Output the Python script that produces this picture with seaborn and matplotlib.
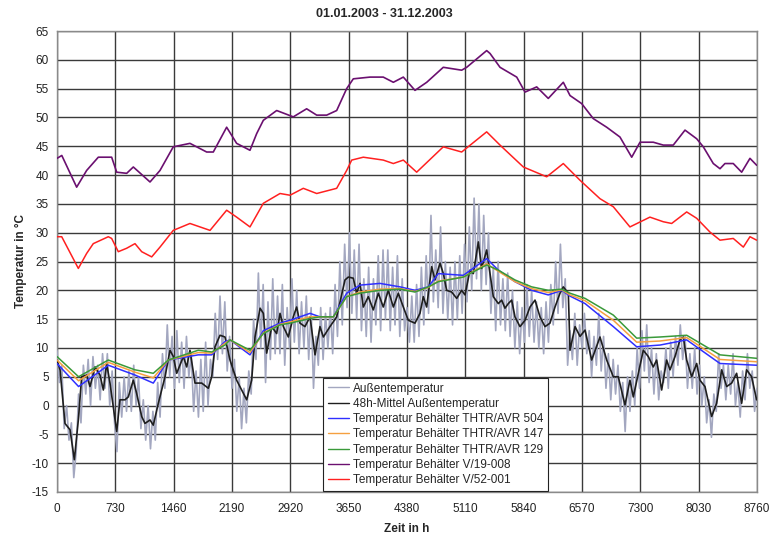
import numpy as np
import pandas as pd
import matplotlib
matplotlib.use("Agg")
import matplotlib.pyplot as plt
import seaborn as sns

# ---------------- data ----------------
title = "01.01.2003 - 31.12.2003"
x_ticks = [0, 730, 1460, 2190, 2920, 3650, 4380, 5110, 5840, 6570, 7300, 8030, 8760]
y_ticks = [-15, -10, -5, 0, 5, 10, 15, 20, 25, 30, 35, 40, 45, 50, 55, 60, 65]

labels = ["Außentemperatur", "48h-Mittel Außentemperatur",
          "Temperatur Behälter THTR/AVR 504", "Temperatur Behälter THTR/AVR 147",
          "Temperatur Behälter THTR/AVR 129", "Temperatur Behälter V/19-008",
          "Temperatur Behälter V/52-001"]

outdoor_step_h = 30
outdoor_t = [
    9.5, 4, 7, -4, 0, -6, -3, -12.5, -8, 2,
    -3, 7, 2, 8, 0, 8.5, 3, 7, 1, 9,
    3, 9, 0, 6, -3, -8, 4, -2, 5, -1,
    6, -1, 7, 0, 5, -4, 1, -6, 0, -7.5,
    -1, -6, 4, -2, 9, 3, 14, 5, 12, 3,
    13, 4, 11, 3, 12, 5, 9, -1, 6, -2,
    8, -1, 11, 0, 8, 5, 16, 8, 19, 9,
    18, 6, 12, 3, 8, -1, 5, -4, 3, -3,
    6, 2, 15, 8, 23, 10, 21, 4, 18, 8,
    22, 9, 19, 9, 21, 7, 17, 10, 22, 11,
    20, 9, 18, 10, 19, 8, 17, 3, 12, 7,
    17, 8, 16, 10, 17, 9, 21, 12, 25, 14,
    28, 17, 30, 16, 27, 15, 28, 13, 22, 12,
    24, 11, 22, 14, 26, 13, 27, 15, 27, 13,
    24, 14, 26, 12, 22, 13, 17, 11, 19, 11,
    21, 12, 24, 14, 26, 16, 33, 18, 27, 17,
    31, 16, 25, 15, 24, 14, 25, 15, 26, 16,
    28, 18, 31, 20, 36, 22, 35, 20, 33, 21,
    30, 16, 24, 13, 25, 14, 22, 13, 23, 12,
    20, 10, 18, 9, 17, 11, 21, 12, 20, 11,
    18, 10, 17, 9, 18, 11, 21, 14, 25, 16,
    28, 17, 22, 7, 13, 8, 16, 7, 14, 10,
    16, 9, 13, 5, 12, 7, 16, 6, 12, 3,
    9, 1, 8, 2, 7, -1, 4, -4.5, 5, -1,
    6, 0, 10, 3, 13, 6, 14, 4, 10, 2,
    9, 1, 6, 4, 10, 3, 11, 5, 12, 7,
    14, 8, 12, 3, 9, 3, 10, 2, 7, 0,
    5, -3, 1, -5.5, 2, -1, 9, 3, 7, 1,
    7, 2, 9, 0, 4, -2, 6, 1, 9, 3,
    6, -1, 3,
]

mean48_h = [0, 38, 100, 163, 217, 267, 309, 371, 413, 476, 538, 580, 621, 663, 747, 788, 851, 892,
            955, 997, 1060, 1101, 1164, 1205, 1268, 1352, 1414, 1456, 1498, 1581, 1623, 1664, 1727,
            1811, 1894, 1936, 1977, 2040, 2102, 2165, 2248, 2374, 2436, 2478, 2541, 2582, 2624, 2687,
            2749, 2791, 2833, 2895, 2957, 2999, 3041, 3103, 3166, 3229, 3291, 3333, 3416, 3500, 3562,
            3604, 3646, 3708, 3750, 3792, 3833, 3896, 3958, 4021, 4083, 4146, 4209, 4271, 4334, 4396,
            4480, 4542, 4584, 4626, 4689, 4730, 4793, 4835, 4876, 4939, 5002, 5064, 5106, 5168, 5210,
            5273, 5314, 5377, 5419, 5460, 5523, 5565, 5606, 5648, 5690, 5731, 5794, 5857, 5919, 5982,
            6044, 6107, 6169, 6232, 6295, 6336, 6399, 6420, 6483, 6545, 6608, 6691, 6795, 6879, 6962,
            7024, 7108, 7170, 7212, 7275, 7337, 7400, 7462, 7504, 7567, 7629, 7671, 7734, 7796, 7838,
            7880, 7942, 8005, 8046, 8109, 8192, 8255, 8318, 8380, 8443, 8505, 8568, 8630, 8693, 8755]
mean48_t = [7.9, 6.2, -3.1, -4.2, -9.4, -2.5, 5.0, 5.3, 3.3, 6.7, 5.3, 2.7, 7.3, 3.9, -4.5, 1.0, 1.0, 1.5,
            4.4, 2.1, -1.9, -3.1, -2.5, -3.4, 0.4, 5.0, 9.6, 8.5, 5.6, 8.5, 6.7, 9.6, 3.9,
            3.9, 3.0, 5.0, 10.2, 12.2, 11.9, 7.9, 4.4, 1.0, 4.4, 11.9, 16.9, 16.0, 9.1, 13.7,
            12.5, 16.0, 13.7, 11.9, 15.4, 17.1, 14.3, 13.7, 15.4, 8.8, 13.7, 11.9, 13.7, 15.4, 19.2,
            21.8, 22.3, 22.1, 19.5, 21.2, 17.1, 18.9, 16.6, 19.5, 17.1, 20.0, 17.1, 19.5, 17.1, 14.8,
            14.3, 16.0, 18.9, 17.1, 24.1, 21.8, 24.7, 22.9, 20.0, 19.7, 18.6, 20.0, 19.2, 23.5, 22.9,
            28.4, 23.8, 27.0, 22.9, 18.9, 17.7, 18.3, 16.9, 17.7, 18.3, 15.4, 13.7, 14.8, 17.1, 18.3,
            15.4, 13.7, 14.3, 17.1, 19.5, 20.6, 19.5, 9.6, 13.7, 12.0, 13.1, 7.9, 11.9, 7.9, 5.0,
            5.0, 0.1, 4.4, 1.5, 5.6, 9.6, 8.5, 6.7, 7.9, 2.7, 7.9, 6.2, 8.5, 11.4, 11.9,
            7.9, 5.0, 7.3, 4.4, 3.3, -1.9, 0.4, 6.2, 3.3, 3.9, 5.6, 0.4, 6.2, 5.0, 1.0]

tank_h = [0, 270, 642, 976, 1205, 1393, 1768, 1936, 2102, 2165, 2415, 2582, 2791, 2916, 3166, 3291,
          3458, 3625, 3792, 4042, 4292, 4480, 4647, 4772, 5085, 5377, 5523, 5731, 5940, 6148, 6316,
          6420, 6608, 6962, 7254, 7546, 7880, 8297, 8756]
avr504_t = [7.3, 3.3, 7.0, 5.3, 3.9, 7.9, 8.8, 8.8, 11.1, 11.4, 8.8, 13.0, 14.3, 14.8, 16.0, 15.4,
            15.4, 19.5, 20.9, 21.2, 20.6, 20.0, 20.6, 22.9, 22.6, 25.5, 23.5, 21.5, 20.0, 19.2, 20.0,
            19.0, 17.7, 13.7, 10.2, 10.5, 11.4, 7.3, 7.0]
avr147_t = [7.9, 4.3, 7.5, 5.8, 4.8, 7.9, 9.2, 9.1, 10.8, 11.4, 9.2, 12.6, 14.1, 14.5, 15.4, 15.4,
            15.4, 18.9, 19.7, 20.2, 20.3, 19.8, 20.5, 21.6, 22.3, 24.6, 23.3, 21.5, 20.3, 19.6, 20.1,
            19.2, 18.2, 14.8, 11.0, 11.2, 11.8, 8.0, 7.6]
avr129_t = [8.5, 5.0, 7.9, 6.2, 5.6, 7.9, 9.6, 9.3, 10.5, 11.4, 9.6, 12.5, 14.0, 14.3, 15.1, 15.4,
            15.4, 18.9, 19.5, 20.0, 20.2, 19.7, 20.6, 21.5, 22.3, 24.4, 23.5, 21.8, 20.6, 20.0, 20.2,
            19.5, 18.6, 15.7, 11.7, 11.9, 12.2, 8.8, 8.2]

v19_h = [0, 60, 246, 371, 517, 684, 747, 872, 955, 1164, 1289, 1455, 1664, 1873, 1956, 2123, 2248,
         2415, 2499, 2582, 2749, 2957, 3124, 3250, 3375, 3500, 3625, 3708, 3917, 4083, 4209, 4334,
         4480, 4627, 4834, 5064, 5127, 5377, 5419, 5544, 5753, 5857, 6003, 6148, 6336, 6420, 6566,
         6711, 6879, 7045, 7192, 7296, 7462, 7587, 7712, 7859, 8005, 8088, 8213, 8297, 8359, 8463,
         8568, 8672, 8756]
v19_t = [42.9, 43.4, 37.9, 40.8, 43.1, 43.1, 40.5, 40.3, 41.4, 38.8, 40.8, 44.9, 45.5, 44.0, 44.0,
         48.3, 45.5, 44.3, 47.2, 49.5, 51.2, 50.1, 51.5, 50.4, 50.4, 51.2, 55.0, 56.7, 57.0, 57.0,
         56.1, 57.0, 54.7, 56.1, 58.7, 58.2, 58.7, 61.6, 61.1, 58.7, 57.0, 54.4, 55.3, 53.3, 56.1,
         53.8, 52.4, 49.8, 48.3, 46.6, 43.1, 45.7, 45.7, 45.2, 45.2, 47.8, 46.3, 44.9, 42.0, 41.1,
         42.0, 42.0, 40.5, 42.9, 41.7]

v52_h = [0, 59, 267, 371, 454, 642, 684, 767, 872, 976, 1060, 1185, 1289, 1455, 1664, 1915, 2123,
         2248, 2415, 2582, 2791, 2916, 3082, 3250, 3500, 3625, 3688, 3833, 4083, 4209, 4334, 4501,
         4834, 5064, 5377, 5544, 5836, 6128, 6336, 6545, 6795, 6962, 7170, 7420, 7587, 7692, 7880,
         8005, 8172, 8297, 8463, 8589, 8672, 8756]
v52_t = [29.3, 29.3, 23.8, 26.4, 28.1, 29.3, 29.0, 26.7, 27.3, 28.1, 26.7, 25.8, 27.5, 30.4, 31.6,
         30.4, 33.9, 32.7, 31.0, 35.1, 36.8, 36.5, 37.7, 36.8, 37.7, 40.8, 42.6, 43.1, 42.6, 42.0,
         42.6, 40.5, 44.9, 44.0, 47.5, 45.2, 41.4, 39.7, 42.0, 39.1, 35.9, 34.5, 31.0, 32.7, 31.9,
         31.6, 33.6, 32.5, 30.1, 28.7, 29.0, 27.5, 29.3, 28.7]

colors = ["#a3a7c0", "#1e1e1e", "#2f2fff", "#f5a040", "#3a9a3a", "#6b1070", "#ff2020"]
widths = [1.2, 1.2, 1.1, 1.1, 1.1, 1.2, 1.1]

# ---------------- figure ----------------
sns.set_style("white")
plt.rcParams["font.family"] = ["Liberation Sans", "DejaVu Sans"]
plt.rcParams["axes.unicode_minus"] = False

fig = plt.figure(figsize=(7.69, 5.38), dpi=100)
ax = fig.add_axes([57 / 769, 46 / 538, 700 / 769, 461 / 538])

series = [
    (np.arange(len(outdoor_t)) * outdoor_step_h, outdoor_t),
    (mean48_h, mean48_t),
    (tank_h, avr504_t),
    (tank_h, avr147_t),
    (tank_h, avr129_t),
    (v19_h, v19_t),
    (v52_h, v52_t),
]
for i, ((h, t), lab) in enumerate(zip(series, labels)):
    df = pd.DataFrame({"h": h, "t": t})
    sns.lineplot(data=df, x="h", y="t", ax=ax, color=colors[i], linewidth=widths[i],
                 label=lab, estimator=None, sort=False, zorder=3 + i)

ax.set_xlim(0, 8760)
ax.set_ylim(-15, 65)
ax.set_xticks(x_ticks)
ax.set_yticks(y_ticks)
ax.grid(True, color="#3a3a3a", linewidth=1.0, zorder=1)
ax.set_axisbelow(True)
for s in ax.spines.values():
    s.set_color("#8a8a8a")
    s.set_linewidth(1.0)
ax.tick_params(axis="both", direction="inout", length=6, width=0.8, color="#555555",
               labelsize=8.5, labelcolor="#222222", pad=3)
ax.tick_params(axis="x", pad=5)

ax.set_xlabel("Zeit in h", fontsize=8.5, fontweight="bold", labelpad=6)
ax.set_ylabel("Temperatur in °C", fontsize=8.5, fontweight="bold")
ax.yaxis.set_label_coords(-0.043, 0.5)
fig.text(0.5, 1 - 14 / 538, title, ha="center", va="center", fontsize=9, fontweight="bold")

leg = ax.legend(loc="lower left", bbox_to_anchor=(0.38, 0.002), fontsize=8.5,
                frameon=True, fancybox=False, framealpha=1, edgecolor="#222222",
                handlelength=1.8, handletextpad=0.3, labelspacing=0.28,
                borderpad=0.4, borderaxespad=0)
leg.get_frame().set_linewidth(0.8)
for line in leg.get_lines():
    line.set_linewidth(1.0)

fig.savefig("out.png", dpi=100)
